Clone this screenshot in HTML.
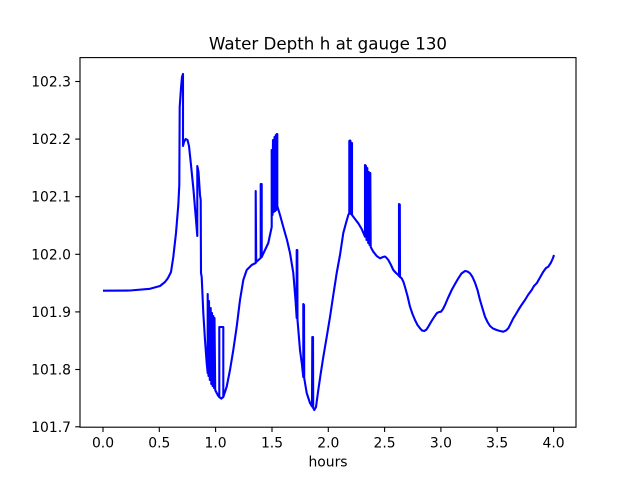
<!DOCTYPE html>
<html>
<head>
<meta charset="utf-8">
<style>
html,body{margin:0;padding:0;background:#fff;}
svg{display:block;}
text{font-family:"DejaVu Sans","Liberation Sans",sans-serif;fill:#000;}
</style>
</head>
<body>
<svg width="640" height="480" viewBox="0 0 640 480" xmlns="http://www.w3.org/2000/svg">
<rect x="0" y="0" width="640" height="480" fill="#fff"/>
<!-- data line -->
<path fill="none" stroke="#0000ff" stroke-width="2.1" stroke-linejoin="round" stroke-linecap="butt" d="
M103,290.7 L130,290.5 L150,288.8 L160,286 L165,282 L168,278 L171,272 L173.3,257 L176,233 L178.3,205 L179.3,185
L179.7,107 L181,88 L182,77 L183,74 L183,146 L184,142 L185.7,139 L187.5,140 L189,146 L191,165 L193.5,190 L196,220 L197.3,236
L197.3,166 L198.5,172 L200,195 L200.7,200 L201,273 L201.7,277 L203.3,313 L205,340 L206.7,363 L207.7,373
L207.7,294 L208.5,376 L209,301 L209.8,380 L210.7,308 L211.3,384 L212,313 L212.6,386 L213.3,316 L214,388 L214.5,318 L215.2,390 L216.7,393 L218,395.5 L219.3,397
L219.3,327 L223.3,327 L223.3,397
L226.7,386.7 L230,370 L233.3,350 L236.7,326.7 L240,300 L243.3,280 L246.7,270 L251.7,265 L255.7,263
L255.7,191 L256.2,262 L260.7,258 L260.7,184 L261.7,184 L261.7,257 L265,250 L268.3,243 L271.7,227
L271.7,150 L272.5,215 L273,140 L273.8,212 L274.5,137 L275.2,211 L275.8,135 L276.3,210 L276.8,134 L277.3,134 L277.3,206
L280,215 L283.3,227 L287,240 L290,253 L293.3,273 L295.5,300 L296.7,318 L296.7,250 L297.3,250 L297.5,320
L300,350 L302,365 L303.3,377 L303.3,304 L304,305 L304.2,378 L306.7,393 L310,403 L312,406.5 L312.3,337 L313,337 L313.2,408 L314.3,410
L316,407 L318.3,390 L320.8,373 L323.3,357 L326.7,337 L330,317 L333.3,295 L336.7,273 L340,255 L343.3,233 L346,223 L348.3,215 L349.3,213
L349.3,141 L350,140.5 L350.5,141 L350.8,214 L351.3,143 L352,143 L352,215
L355,219 L358.3,223.3 L361.7,229 L365,236.7 L365,165 L366,166 L366.5,240 L367.3,168 L368.2,243 L368.8,172 L369.5,245 L370.3,173 L370.7,247
L373.3,251.7 L376.7,256 L380,258.3 L383,257 L385,256.5 L386.7,258 L388.3,260 L391,265 L393.3,270 L396,273 L398.3,275 L399,276
L399,204 L399.8,204.5 L400,277 L401.7,278.3 L403.5,282 L405,287 L407.5,296 L410,306.7 L412.5,314 L415,320 L417.5,325 L420,328.3 L422,330.5 L424.3,331
L426.5,329.5 L428.3,326.7 L431,322 L433.3,318.3 L436.7,313.3 L439,312 L441,311.7 L443,309 L445,305 L448,298 L451.7,290 L455,284 L458.3,278.3 L461.5,273.5 L465,271
L467.5,271.5 L470,273.3 L472.5,277 L475,282.7 L477.5,290 L480,300 L482.5,308.5 L485,316.7 L487.5,322 L490,326 L493,328.5 L496.7,330 L500,331 L503.3,331.7
L506,330.5 L508.3,328.3 L511,323 L513.3,318.3 L516,314 L518.3,310 L521.5,305 L525,300 L528,295 L531.7,290 L534,286 L536.7,283.3 L540,277.5 L543.3,271.7 L546,268 L548.3,266.7 L551,262.5 L553,258 L554,255"/>
<path fill="none" stroke="#0000ff" stroke-width="2.1" d="M219.3,397 L221.3,398.5 L223.3,397"/>
<!-- axes frame -->
<rect x="80" y="57.6" width="496" height="369.6" fill="none" stroke="#000" stroke-width="1.1"/>
<!-- x ticks -->
<g stroke="#000" stroke-width="1.1">
<line x1="103" y1="427.2" x2="103" y2="432"/>
<line x1="159.3" y1="427.2" x2="159.3" y2="432"/>
<line x1="215.6" y1="427.2" x2="215.6" y2="432"/>
<line x1="272" y1="427.2" x2="272" y2="432"/>
<line x1="328.3" y1="427.2" x2="328.3" y2="432"/>
<line x1="384.6" y1="427.2" x2="384.6" y2="432"/>
<line x1="440.9" y1="427.2" x2="440.9" y2="432"/>
<line x1="497.2" y1="427.2" x2="497.2" y2="432"/>
<line x1="553.6" y1="427.2" x2="553.6" y2="432"/>
<!-- y ticks -->
<line x1="80" y1="81.5" x2="75.2" y2="81.5"/>
<line x1="80" y1="139.1" x2="75.2" y2="139.1"/>
<line x1="80" y1="196.7" x2="75.2" y2="196.7"/>
<line x1="80" y1="254.3" x2="75.2" y2="254.3"/>
<line x1="80" y1="311.9" x2="75.2" y2="311.9"/>
<line x1="80" y1="369.5" x2="75.2" y2="369.5"/>
<line x1="80" y1="426.8" x2="75.2" y2="426.8"/>
</g>
<g font-size="13.9" text-anchor="middle">
<text x="103" y="447.5">0.0</text>
<text x="159.3" y="447.5">0.5</text>
<text x="215.6" y="447.5">1.0</text>
<text x="272" y="447.5">1.5</text>
<text x="328.3" y="447.5">2.0</text>
<text x="384.6" y="447.5">2.5</text>
<text x="440.9" y="447.5">3.0</text>
<text x="497.2" y="447.5">3.5</text>
<text x="553.6" y="447.5">4.0</text>
</g>
<g font-size="13.9" text-anchor="end">
<text x="71" y="86.5">102.3</text>
<text x="71" y="144.1">102.2</text>
<text x="71" y="201.7">102.1</text>
<text x="71" y="259.3">102.0</text>
<text x="71" y="316.9">101.9</text>
<text x="71" y="374.5">101.8</text>
<text x="71" y="431.8">101.7</text>
</g>
<text x="328" y="466.5" font-size="13.9" text-anchor="middle">hours</text>
<text x="328" y="49.3" font-size="16.7" text-anchor="middle">Water Depth h at gauge 130</text>
</svg>
</body>
</html>
